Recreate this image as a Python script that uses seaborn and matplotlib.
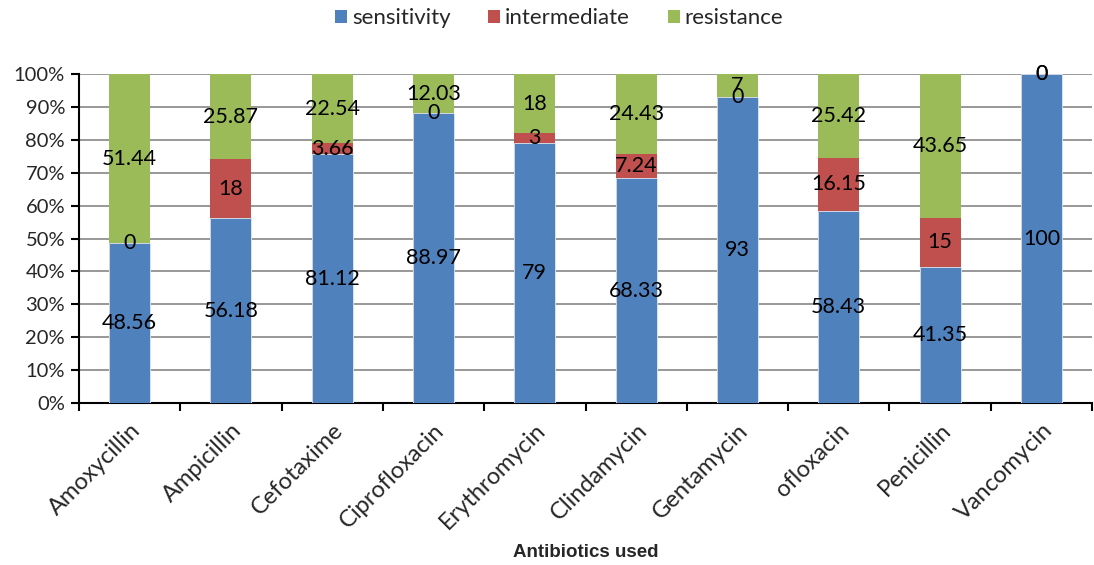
import numpy as np
import pandas as pd
import matplotlib
matplotlib.use("Agg")
import matplotlib.pyplot as plt
from matplotlib.patches import Patch
from matplotlib.ticker import FixedLocator, PercentFormatter
import seaborn as sns

antibiotics = ["Amoxycillin", "Ampicillin", "Cefotaxime", "Ciprofloxacin", "Erythromycin",
               "Clindamycin", "Gentamycin", "ofloxacin", "Penicillin", "Vancomycin"]
sensitivity = [48.56, 56.18, 81.12, 88.97, 79, 68.33, 93, 58.43, 41.35, 100]
intermediate = [0, 18, 3.66, 0, 3, 7.24, 0, 16.15, 15, 0]
resistance = [51.44, 25.87, 22.54, 12.03, 18, 24.43, 7, 25.42, 43.65, 0]

series_names = ["sensitivity", "intermediate", "resistance"]
colors = ["#4F81BD", "#C0504D", "#9BBB59"]

sns.set_theme(style="white")
plt.rcParams["font.family"] = ["Lato", "DejaVu Sans"]

df = pd.DataFrame({"antibiotic": antibiotics, "sensitivity": sensitivity,
                   "intermediate": intermediate, "resistance": resistance})
raw = df[series_names].to_numpy(dtype=float)
share = raw / raw.sum(axis=1, keepdims=True) * 100
cum = np.cumsum(share, axis=1)

fig = plt.figure(figsize=(10.94, 5.65), dpi=100)
ax = fig.add_axes([0.0722, 0.2867, 0.926, 0.5823])

# draw cumulative layers from the top down so each segment shows through
for k in range(2, -1, -1):
    sns.barplot(x=df["antibiotic"], y=cum[:, k], color=colors[k], width=0.405,
                saturation=1, ax=ax, zorder=3, linewidth=0.6,
                edgecolor="#dfe8f2" if k == 0 else "none")

# segment value labels
for i in range(len(antibiotics)):
    lower = 0
    for k in range(3):
        upper = cum[i, k]
        ax.text(i, (lower + upper) / 2, f"{raw[i, k]:g}", ha="center", va="center",
                fontsize=15.5, color="black", zorder=5)
        lower = upper

ax.set_xlim(-0.5, len(antibiotics) - 0.5)
ax.set_ylim(0, 100)
ax.yaxis.set_major_locator(FixedLocator(np.arange(0, 101, 10)))
ax.yaxis.set_major_formatter(PercentFormatter(decimals=0))
ax.grid(axis="y", color="#868686", linewidth=1.2, zorder=0)
ax.set_axisbelow(True)

ax.set_xticks(range(len(antibiotics)))
ax.set_xticklabels(antibiotics, rotation=45, ha="right", rotation_mode="anchor", fontsize=17)
ax.xaxis.set_minor_locator(FixedLocator(np.arange(-0.5, len(antibiotics), 1)))
ax.tick_params(axis="x", which="major", length=0, pad=12)
ax.tick_params(axis="x", which="minor", length=6, width=1.5, color="black", direction="out")
ax.tick_params(axis="y", length=6, width=1.5, color="black", direction="out", labelsize=14.5, pad=4)
ax.xaxis.set_ticks_position("bottom")
ax.yaxis.set_ticks_position("left")

for side in ["top", "right"]:
    ax.spines[side].set_visible(False)
for side in ["left", "bottom"]:
    ax.spines[side].set_color("black")
    ax.spines[side].set_linewidth(1.5)

ax.set_xlabel("Antibiotics used", fontsize=13.5, fontweight="bold",
              family=["Liberation Sans", "DejaVu Sans"])
ax.xaxis.set_label_coords(0.5, -0.43)
ax.set_ylabel("")

handles = [Patch(facecolor=c, edgecolor="none") for c in colors]
fig.legend(handles, series_names, loc="center", bbox_to_anchor=(0.511, 0.968), ncol=3,
           frameon=False, fontsize=16, handlelength=0.55, handleheight=0.55,
           handletextpad=0.2, columnspacing=1.7)

fig.savefig("out.png", dpi=100)
